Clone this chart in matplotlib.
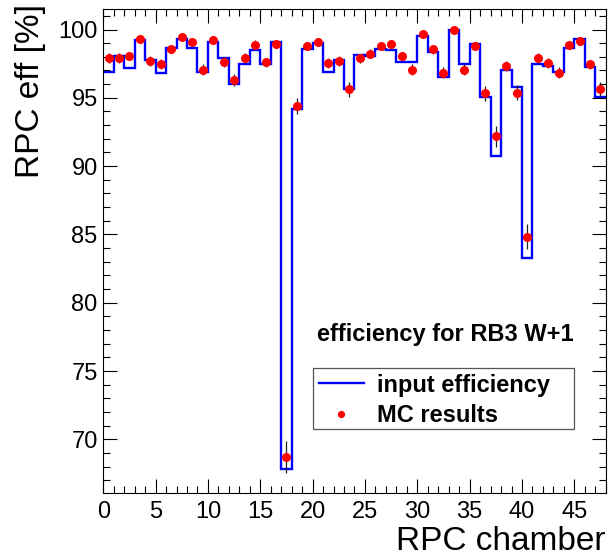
import matplotlib
matplotlib.use("Agg")
import matplotlib.pyplot as plt
import numpy as np
from matplotlib.patches import Rectangle
from matplotlib.ticker import MultipleLocator

plt.rcParams['font.family'] = ['Liberation Sans', 'DejaVu Sans']

# ---------------- data ----------------
chamber_edges = np.arange(0, 49)   # 48 chambers, bin edges 0..48

input_eff = [96.90, 98.05, 97.19, 99.22, 97.75, 96.83, 98.63, 99.29,
             98.63, 96.90, 99.05, 97.95, 95.98, 97.46, 98.49, 97.46,
             99.05, 67.80, 94.17, 98.56, 99.02, 96.88, 97.75, 95.63,
             98.14, 98.05, 98.56, 98.49, 97.63, 97.63, 99.51, 98.32,
             96.49, 99.95, 97.48, 98.92, 95.07, 90.75, 97.07, 95.76,
             83.25, 97.44, 97.32, 96.90, 98.63, 99.29, 97.26, 95.07]

mc_eff = [97.92, 97.90, 98.05, 99.29, 97.70, 97.46, 98.58, 99.44,
          99.05, 97.07, 99.22, 97.63, 96.31, 97.92, 98.90, 97.60,
          98.92, 68.71, 94.41, 98.78, 99.05, 97.56, 97.70, 95.61,
          97.88, 98.24, 98.78, 98.92, 98.05, 97.07, 99.66, 98.54,
          96.85, 99.95, 97.07, 98.78, 95.32, 92.17, 97.32, 95.36,
          84.83, 97.92, 97.56, 96.85, 98.85, 99.14, 97.44, 95.63]

mc_err = [0.35, 0.35, 0.30, 0.25, 0.35, 0.35, 0.30, 0.25,
          0.25, 0.40, 0.25, 0.35, 0.45, 0.35, 0.30, 0.35,
          0.30, 1.15, 0.60, 0.30, 0.25, 0.35, 0.35, 0.55,
          0.35, 0.30, 0.30, 0.30, 0.30, 0.40, 0.25, 0.30,
          0.40, 0.20, 0.40, 0.30, 0.55, 0.75, 0.35, 0.55,
          0.90, 0.35, 0.35, 0.40, 0.30, 0.25, 0.35, 0.50]

centers = chamber_edges[:-1] + 0.5

# ---------------- figure ----------------
fig = plt.figure(figsize=(6.13, 5.6), dpi=100)
ax = fig.add_axes([0.1685, 0.1202, 0.8196, 0.8637])

ax.stairs(input_eff, chamber_edges, baseline=None, color='#0000ff',
          linewidth=1.7, label='input efficiency')
ax.errorbar(centers, mc_eff, yerr=mc_err, fmt='none', ecolor='#222222',
            elinewidth=0.9)
ax.plot(centers, mc_eff, 'o', color='#ff0000', markersize=6.5,
        markeredgewidth=0, label='MC results')

ax.set_xlim(0, 48)
ax.set_ylim(66.1, 101.5)

ax.xaxis.set_major_locator(MultipleLocator(5))
ax.xaxis.set_minor_locator(MultipleLocator(1))
ax.yaxis.set_major_locator(MultipleLocator(5))
ax.yaxis.set_minor_locator(MultipleLocator(1))
ax.tick_params(which='both', direction='in', top=True, right=True,
               width=0.8, labelsize=17)
ax.tick_params(which='major', length=10)
ax.tick_params(which='minor', length=5)
ax.tick_params(axis='x', pad=6)
ax.tick_params(axis='y', pad=4)
for s in ax.spines.values():
    s.set_linewidth(0.8)

fig.text(0.988, 0.005, 'RPC chamber', ha='right', va='bottom', fontsize=24)
fig.text(0.05, 0.992, 'RPC eff [%]', ha='center', va='top', fontsize=24,
         rotation=90)

ax.text(317 / 613, 1 - 341 / 560, 'efficiency for RB3 W+1',
        transform=fig.transFigure, fontsize=17, fontweight='bold',
        ha='left', va='baseline')

# legend box like ROOT's TLegend
fig.patches.append(Rectangle((312.7 / 613, 1 - 429.3 / 560),
                             261 / 613, 61.6 / 560,
                             transform=fig.transFigure, fill=False,
                             edgecolor='#555555', linewidth=0.9))
leg = ax.legend(loc='upper left', bbox_to_anchor=(314 / 613, 1 - 369 / 560),
                bbox_transform=fig.transFigure, frameon=False,
                prop={'weight': 'bold', 'size': 17}, borderaxespad=0,
                borderpad=0.2, handlelength=1.9, handletextpad=0.55,
                labelspacing=0.32, markerscale=0.8)

fig.savefig('out.png', dpi=100)
